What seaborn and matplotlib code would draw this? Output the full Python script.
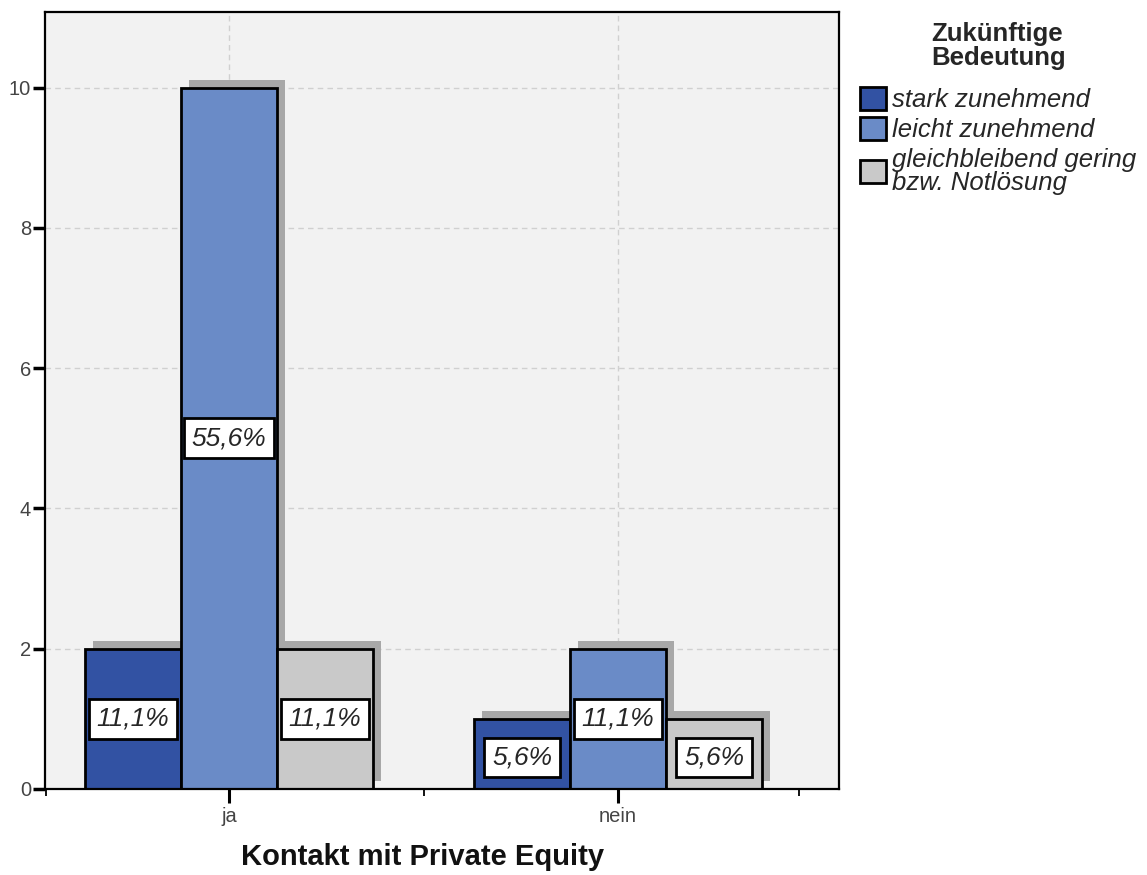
import pandas as pd
import seaborn as sns
import matplotlib.pyplot as plt
import matplotlib.patheffects as pe

# Daten (Anzahl der Nennungen)
kontakt = ['ja', 'nein']
bedeutung = ['stark zunehmend', 'leicht zunehmend', 'gleichbleibend gering\nbzw. Notlösung']
anzahl_ja = [2, 10, 2]
anzahl_nein = [1, 2, 1]
farben = ['#3252a3', '#6a8bc7', '#c9c9c9']

rows = []
for k, werte in zip(kontakt, [anzahl_ja, anzahl_nein]):
    for b, w in zip(bedeutung, werte):
        rows.append({'kontakt': k, 'bedeutung': b, 'anzahl': w})
df = pd.DataFrame(rows)
gesamt = df['anzahl'].sum()

sns.set_style('white')
plt.rcParams['font.family'] = ['Liberation Sans', 'DejaVu Sans']

fig = plt.figure(figsize=(11.47, 8.75), dpi=100)
ax = fig.add_axes([0.0392, 0.0983, 0.6923, 0.888])
ax.set_facecolor('#f2f2f2')

sns.barplot(data=df, x='kontakt', y='anzahl', hue='bedeutung',
            palette=dict(zip(bedeutung, farben)), saturation=1,
            width=0.74, gap=0, edgecolor='black', linewidth=2, ax=ax)

# Schatten hinter den Balken
schatten = [pe.SimplePatchShadow(offset=(5.8, 5.8), shadow_rgbFace='#a8a8a8', alpha=1), pe.Normal()]
for cont in ax.containers:
    for bar in cont:
        bar.set_path_effects(schatten)
        h = bar.get_height()
        xc = bar.get_x() + bar.get_width() / 2
        yc = min(h / 2, h - 0.55)
        txt = f"{h / gesamt * 100:.1f}".replace('.', ',') + '%'
        ax.text(xc, yc, txt, ha='center', va='center', fontsize=19, style='italic',
                zorder=5, bbox=dict(boxstyle='square,pad=0.3', fc='white', ec='black', lw=2))

ax.set_ylim(0, 11.08)
ax.set_xlim(-0.473, 1.568)
ax.set_yticks([0, 2, 4, 6, 8, 10])
ax.set_xticks([0, 1])
ax.set_xticks([-0.47, 0.5, 1.465], minor=True)
ax.grid(True, ls=(0, (4, 3)), color='#d0d0d0', lw=1)
ax.set_axisbelow(True)

for s in ax.spines.values():
    s.set_color('black')
    s.set_linewidth(1.6)

ax.tick_params(axis='y', which='major', direction='out', length=9, width=2.5,
               labelsize=14.5, labelcolor='#444444', color='black', left=True, pad=1)
ax.tick_params(axis='x', which='major', direction='out', length=10, width=2.2,
               labelsize=14.5, labelcolor='#444444', color='black', bottom=True, pad=3)
ax.tick_params(axis='x', which='minor', direction='out', length=5, width=1.3,
               color='black', bottom=True)

ax.set_ylabel('')
ax.set_xlabel('Kontakt mit Private Equity', fontsize=21, fontweight='bold', color='#111111')
ax.xaxis.set_label_coords(0.476, -0.07)

# Legende rechts neben dem Diagramm
handles, labels = ax.get_legend_handles_labels()
ax.get_legend().remove()
for h in handles:
    h.set_edgecolor('black')
    h.set_linewidth(2)
leg = ax.legend(handles, labels, title='Zukünftige\nBedeutung',
                loc='upper left', bbox_to_anchor=(860 / 1147, 1 - 22 / 875),
                bbox_transform=fig.transFigure, frameon=False,
                prop={'style': 'italic', 'size': 18.5},
                title_fontproperties={'weight': 'bold', 'size': 18.5},
                handlelength=1.0, handleheight=1.0, handletextpad=0.25,
                labelspacing=0.2, borderpad=0, borderaxespad=0)
leg.get_texts()[2].set_linespacing(0.95)
leg.get_title().set_linespacing(1.0)
leg._legend_box.sep = 12

fig.savefig('out.png', dpi=100)
